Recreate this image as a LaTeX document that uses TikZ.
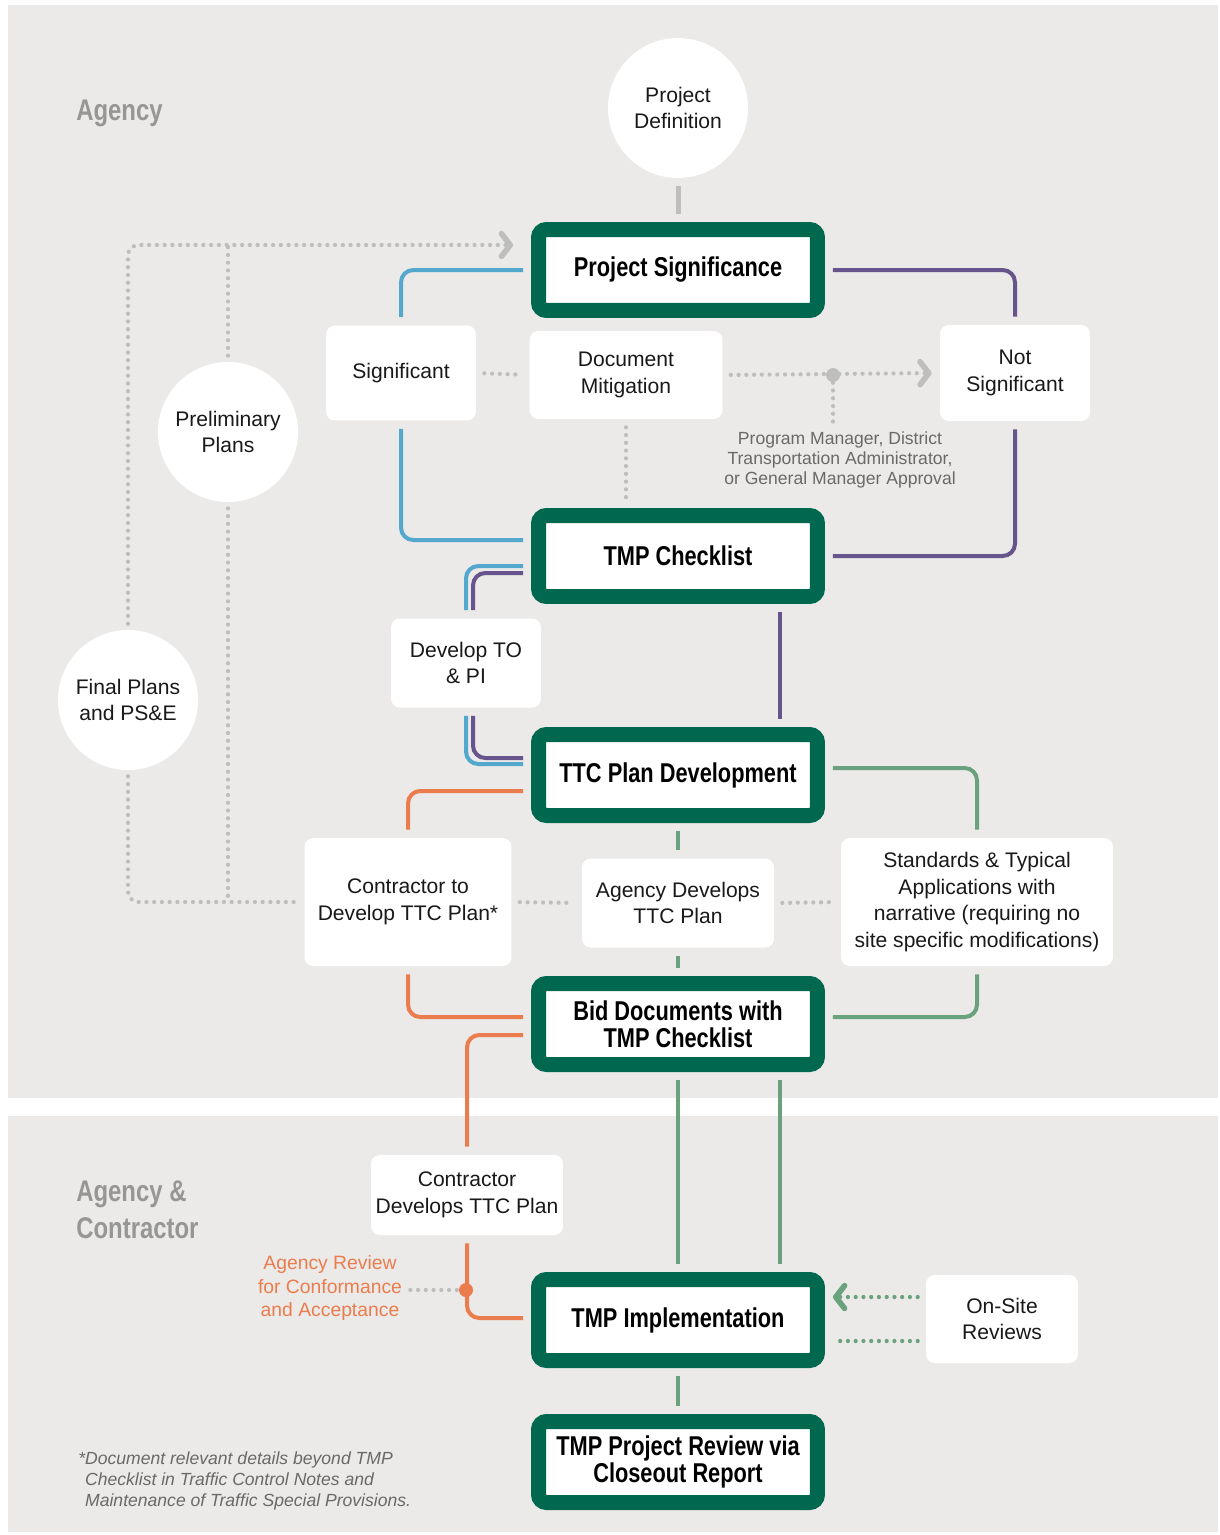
\documentclass[tikz,border=0pt]{standalone}
\usepackage{fontspec}
\setmainfont{Liberation Sans}
\newfontfamily\headfont{Liberation Sans}[FakeStretch=0.8]
\usetikzlibrary{positioning,calc,arrows.meta}

\begin{document}
\begin{tikzpicture}[x=0.02cm,y=-0.02cm,
    tmpbox/.style={draw=tmpgreen,fill=white,line width=0.3cm,outer sep=0.15cm,rounded corners=0.16cm,
      minimum width=5.58cm,minimum height=1.62cm,align=center,inner sep=0,text=black,
      font=\headfont\bfseries\fontsize{15.5}{15.5}\selectfont},
    wbox/.style={fill=white,rounded corners=5pt,align=center,inner sep=0,text=txtblack,
      font=\fontsize{12}{15.3}\selectfont},
    wcirc/.style={circle,fill=white,minimum size=2.8cm,inner sep=0,align=center,text=txtblack,
      font=\fontsize{12}{15.3}\selectfont},
    gap/.style={shorten <=0.16cm,shorten >=0.16cm},
    ln/.style={line width=0.08cm,rounded corners=7pt},
    dots/.style={draw=dotgray,line width=0.085cm,line cap=round,dash pattern=on 0pt off 0.155cm},
    chev/.style={-{Straight Barb[length=5pt,width=13pt,line width=3.2pt,round]}},
  ]
    \definecolor{panelgray}{RGB}{235,234,232}
    \definecolor{tmpgreen}{RGB}{0,104,78}
    \definecolor{greenln}{RGB}{106,162,126}
    \definecolor{blueln}{RGB}{84,168,206}
    \definecolor{purpleln}{RGB}{104,84,140}
    \definecolor{orangeln}{RGB}{234,124,78}
    \definecolor{dotgray}{RGB}{190,190,190}
    \definecolor{headgray}{RGB}{150,150,150}
    \definecolor{notegray}{RGB}{105,105,105}
    \definecolor{txtblack}{RGB}{25,25,25}

    \useasboundingbox (0,0) rectangle (1220,1535);
    \fill[white] (0,0) rectangle (1220,1535);
    \fill[panelgray] (8,5) rectangle (1218,1098);
    \fill[panelgray] (8,1116) rectangle (1218,1532);

    % lane titles and notes
    \node[anchor=base west,inner sep=0,text=headgray,font=\headfont\bfseries\fontsize{17}{21}\selectfont] (agcy) at (76,120) {Agency};
    \node[anchor=west,inner sep=0,align=left,text=headgray,font=\headfont\bfseries\fontsize{17}{21}\selectfont] (agctr) at (76,1210) {Agency \&\\Contractor};
    \node[anchor=west,inner sep=0,align=left,text=notegray,font=\itshape\fontsize{10}{12.2}\selectfont] (fnote) at (78,1481) {*Document relevant details beyond TMP\\\phantom{*}Checklist in Traffic Control Notes and\\\phantom{*}Maintenance of Traffic Special Provisions.};

    % main boxes
    \node[wcirc] (pdef) at (678,108) {Project\\Definition};
    \node[tmpbox] (ps) at (678,270) {Project Significance};
    \node[wbox,minimum width=3cm,minimum height=1.9cm] (sig) at (401,373) {Significant};
    \node[wbox,minimum width=3.86cm,minimum height=1.76cm] (docmit) at (626,375) {Document\\Mitigation};
    \node[wbox,minimum width=3cm,minimum height=1.92cm] (notsig) at (1015,373) {Not\\Significant};
    \node[wcirc] (prel) at (228,432) {Preliminary\\Plans};
    \node[inner sep=0,align=center,text=notegray,font=\fontsize{10}{11.6}\selectfont] (appr) at (840,460) {Program Manager, District\\Transportation Administrator,\\or General Manager Approval};
    \node[tmpbox] (chk) at (678,556) {TMP Checklist};
    \node[wbox,minimum width=3cm,minimum height=1.78cm] (devto) at (466,663) {Develop TO\\\& PI};
    \node[wcirc] (fin) at (128,700) {Final Plans\\and PS\&E};
    \node[tmpbox] (ttc) at (678,775) {TTC Plan Development};
    \node[wbox,minimum width=4.14cm,minimum height=2.56cm] (ctr) at (408,902) {Contractor to\\Develop TTC Plan*};
    \node[wbox,minimum width=3.84cm,minimum height=1.78cm] (agdev) at (678,903) {Agency Develops\\TTC Plan};
    \node[wbox,minimum width=5.44cm,minimum height=2.56cm] (std) at (977,902) {Standards \& Typical\\Applications with\\narrative (requiring no\\site specific modifications)};
    \node[tmpbox] (bid) at (678,1024) {Bid Documents with\\TMP Checklist};
    \node[wbox,minimum width=3.84cm,minimum height=1.6cm] (ctrdev) at (467,1195) {Contractor\\Develops TTC Plan};
    \node[inner sep=0,align=center,text=orangeln,font=\fontsize{11}{13.6}\selectfont] (rev) at (330,1288) {Agency Review\\for Conformance\\and Acceptance};
    \node[tmpbox] (impl) at (678,1320) {TMP Implementation};
    \node[wbox,minimum width=3.04cm,minimum height=1.76cm] (onsite) at (1002,1319) {On-Site\\Reviews};
    \node[tmpbox] (close) at (678,1462) {TMP Project Review via\\Closeout Report};

    \coordinate (apprdot) at (833,375);
    \coordinate (revdot) at (466,1290);
    \coordinate (toprow) at ($(ps.west)+(-18,-25)$);

    % gray links
    \draw[gap,line width=0.1cm,draw=dotgray] (pdef) -- (ps);
    \draw[dots,gap] (sig.east) -- (docmit.west);
    \draw[dots,chev,gap] (docmit.east) -- (notsig.west);
    \fill[dotgray] (apprdot) circle (0.14cm);
    \draw[dots] (apprdot) -- ($(apprdot |- appr.north)+(0,-8)$);
    \draw[dots,gap] (docmit.south) -- (docmit.south |- chk.north);
    \draw[dots,chev,rounded corners=6pt] ($(fin.north)+(0,-6)$) |- (toprow);
    \draw[dots] ($(prel.north)+(0,-6)$) -- (prel.north |- toprow);
    \draw[dots,rounded corners=6pt] ($(fin.south)+(0,6)$) |- ($(ctr.west)+(-6,0)$);
    \draw[dots] ($(prel.south)+(0,6)$) -- (prel.south |- ctr.west);
    \draw[dots,gap] (ctr.east) -- (agdev.west);
    \draw[dots,gap] (agdev.east) -- (std.west);

    % blue and purple
    \draw[ln,gap,draw=blueln] (ps.west) -| (sig.north);
    \draw[ln,gap,draw=blueln] (sig.south) |- ($(chk.west)+(0,-16)$);
    \draw[ln,gap,draw=purpleln] (ps.east) -| (notsig.north);
    \draw[ln,gap,draw=purpleln] (notsig.south) |- (chk.east);
    \draw[ln,gap,draw=blueln] ($(chk.west)+(0,10)$) -| (devto.north);
    \draw[ln,gap,draw=purpleln] ($(chk.west)+(0,17)$) -| ($(devto.north)+(7,0)$);
    \draw[ln,gap,draw=blueln] (devto.south) |- ($(ttc.west)+(0,-11)$);
    \draw[ln,gap,draw=purpleln] ($(devto.south)+(7,0)$) |- ($(ttc.west)+(0,-17)$);
    \draw[ln,gap,draw=purpleln] ($(chk.south)+(102,0)$) -- ($(ttc.north)+(102,0)$);

    % orange
    \draw[ln,gap,draw=orangeln] ($(ttc.west)+(0,16)$) -| (ctr.north);
    \draw[ln,gap,draw=orangeln] (ctr.south) |- ($(bid.west)+(0,-7)$);
    \draw[ln,gap,draw=orangeln] ($(bid.west)+(0,11)$) -| (ctrdev.north);
    \draw[ln,gap,draw=orangeln] (ctrdev.south) |- ($(impl.west)+(0,-2)$);
    \fill[orangeln] (revdot) circle (0.14cm);
    \draw[dots,gap] (rev.east |- revdot) -- (revdot);

    % green
    \draw[ln,gap,draw=greenln] ($(ttc.east)+(0,-7)$) -| (std.north);
    \draw[ln,gap,draw=greenln] (std.south) |- ($(bid.east)+(0,-7)$);
    \draw[ln,gap,draw=greenln] (ttc.south) -- (agdev.north);
    \draw[ln,gap,draw=greenln] (agdev.south) -- (bid.north);
    \draw[ln,gap,draw=greenln] (bid.south) -- (impl.north);
    \draw[ln,gap,draw=greenln] ($(bid.south)+(102,0)$) -- ($(impl.north)+(102,0)$);
    \draw[ln,gap,draw=greenln] (impl.south) -- (close.north);
    \draw[dots,draw=greenln,chev,gap] ($(onsite.west)+(0,-22)$) -- ($(impl.east)+(0,-23)$);
    \draw[dots,draw=greenln,gap] ($(onsite.west)+(0,22)$) -- ($(impl.east)+(0,21)$);
\end{tikzpicture}
\end{document}
